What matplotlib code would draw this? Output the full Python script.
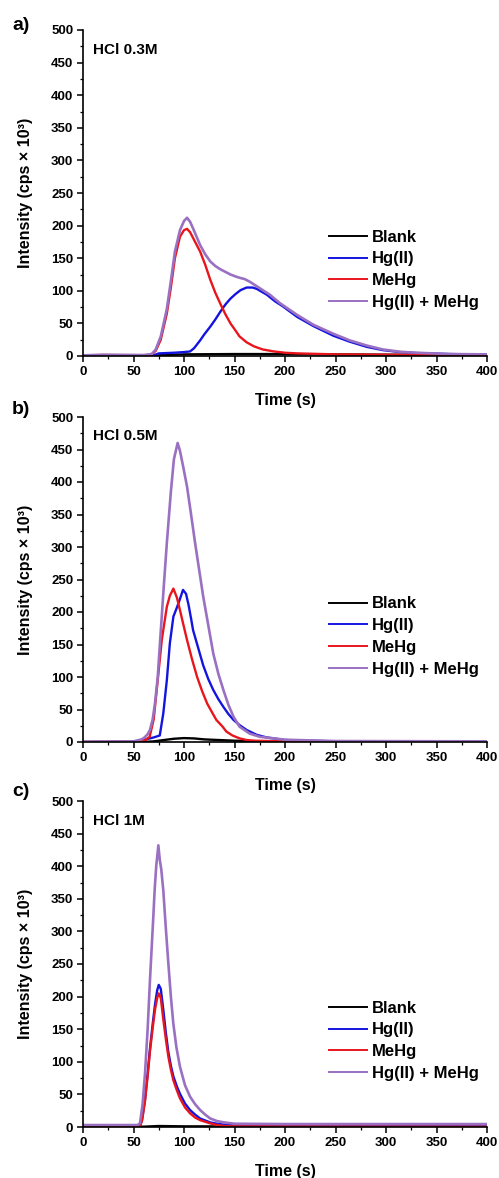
import numpy as np
import matplotlib
matplotlib.use("Agg")
import matplotlib.pyplot as plt
from matplotlib.ticker import MultipleLocator

plt.rcParams['font.family'] = ['Liberation Sans', 'DejaVu Sans']
plt.rcParams['font.weight'] = 'bold'

labels = ['Blank', 'Hg(II)', 'MeHg', 'Hg(II) + MeHg']
colors = ['#000000', '#1414e0', '#e8161c', '#9a70c2']
titles = ['HCl 0.3M', 'HCl 0.5M', 'HCl 1M']
letters = ['a)', 'b)', 'c)']

# ---- panel a: HCl 0.3M ----
t_a_blank = [0, 60, 70, 80, 100, 150, 200, 250, 300, 400]
blank_a = [0, 0, 0.5, 1.5, 2.5, 3, 3, 2.5, 2, 1.5]
t_a_hg = [0, 60, 70, 75, 90, 100, 106, 110, 116, 120, 126, 131, 136, 141, 146, 151,
          156, 162, 168, 172, 182, 190, 198, 212, 228, 248, 264, 281, 297, 314, 330, 363, 400]
hg_a = [0, 0.5, 1, 4, 5, 6, 7, 12, 24, 33, 45, 56, 68, 79, 88, 95,
        101, 105, 105, 103, 94, 84, 76, 60, 46, 31, 22, 14, 9, 6, 4.5, 3, 2]
t_a_me = [0, 20, 60, 68, 72, 77, 83, 87, 91, 96, 100, 103, 106, 110, 116, 121, 126,
          131, 136, 141, 146, 151, 155, 162, 169, 178, 189, 200, 212, 250, 300, 400]
me_a = [1, 1.5, 1, 2, 8, 25, 65, 105, 150, 183, 193, 195, 190, 178, 160, 140, 117,
        97, 80, 64, 50, 39, 30, 21, 15, 10, 7, 5, 4, 2.5, 2, 1.5]
t_a_sum = [0, 20, 60, 68, 72, 77, 83, 87, 91, 96, 100, 103, 106, 110, 116, 121, 126,
           131, 136, 141, 146, 151, 155, 160, 165, 175, 185, 195, 212, 228, 248, 264,
           281, 297, 314, 330, 363, 400]
sum_a = [1, 2, 1.5, 3, 10, 30, 72, 115, 160, 193, 207, 212, 206, 192, 170, 156, 145,
         138, 133, 129, 125, 122, 120, 118, 114, 104, 94, 81, 63, 48, 34, 24,
         16, 10, 6.5, 5, 3, 2.5]

# ---- panel b: HCl 0.5M ----
t_b_blank = [0, 60, 70, 80, 90, 100, 110, 120, 135, 150, 175, 200, 400]
blank_b = [0, 0, 1, 3, 5, 6, 5.5, 4, 3, 2, 1, 0.5, 0.5]
t_b_hg = [0, 55, 62, 70, 76, 79.5, 83, 86, 89.5, 93, 96, 99, 102, 104.5, 107, 109, 114,
          119, 124, 129, 134, 139, 144, 149, 155, 162, 172, 182, 200, 250, 400]
hg_b = [0, 0.5, 4, 7, 10, 44, 95, 152, 193, 207, 220, 234, 228, 211, 190, 172, 145,
        118, 97, 80, 66, 54, 43, 34, 26, 18.5, 11, 7, 3, 1, 0.5]
t_b_me = [0, 55, 62, 66, 70, 73, 78, 83, 86, 89.5, 93, 96, 99, 103, 108, 113, 118, 123,
          128, 132, 138, 142, 148, 155, 162, 170, 200, 400]
me_b = [0, 0.5, 3, 8, 35, 80, 157, 208, 225, 236, 222, 203, 183, 157, 127, 100, 78, 59,
        45, 34, 24, 16, 10, 5.6, 3, 2, 1, 0.5]
t_b_sum = [0, 50, 58, 61, 64, 66.3, 69, 71.3, 74, 76.2, 80, 83, 87, 90, 93.7, 96, 99,
           103, 107, 111, 115, 119, 124, 129, 134, 139, 144, 149, 155, 165, 175, 189,
           200, 250, 400]
sum_b = [0, 1, 4, 7, 12, 18.5, 35, 60, 100, 152, 240, 306, 385, 435, 460, 448, 425,
         393, 350, 306, 265, 224, 180, 136, 105, 80, 57, 39, 23.5, 13, 8, 5.6,
         3.5, 1.5, 1]

# ---- panel c: HCl 1M ----
t_c_blank = [0, 60, 75, 100, 400]
blank_c = [0.5, 0.5, 1.5, 1, 0.5]
t_c_hg = [0, 54, 56.4, 58.5, 61.4, 64, 66.3, 69, 71.3, 73.5, 75, 77, 79.5, 82, 84.5, 87,
          89.4, 93, 96, 101, 106, 111, 116, 121, 126, 133, 140, 150, 175, 400]
hg_c = [0, 0, 1, 12, 42, 82, 120, 158, 188, 210, 218, 212, 180, 145, 115, 94,
        78, 62, 51, 36, 26, 19, 13, 10, 7, 5, 3.5, 2.5, 1.5, 1]
t_c_me = [0, 54, 56.4, 58.5, 61.4, 64, 66.3, 69, 71.3, 73.5, 75, 77, 79.5, 82, 84.5, 87,
          89.4, 93, 96, 101, 106, 111, 116, 121, 126, 133, 140, 150, 400]
me_c = [0, 0, 1, 10, 40, 78, 116, 152, 180, 198, 205, 198, 165, 135, 108, 88,
        72, 56, 44, 30, 21, 14.5, 10.5, 8, 5.5, 3, 1.5, 1, 0.5]
t_c_sum = [0, 50, 54, 56.4, 59, 61.4, 64, 66.3, 68, 69.6, 71, 72.5, 74.6, 76, 77.5, 79.5,
           82, 84.5, 87, 89.4, 92.5, 96, 101, 106, 111, 116, 121, 126, 133, 140, 150,
           200, 300, 400]
sum_c = [3, 3, 3, 5.6, 35, 82, 150, 225, 275, 322, 365, 400, 432, 410, 395, 363,
         305, 251, 200, 159, 122, 92.5, 64, 46.5, 35, 26, 19, 13, 9, 7, 5,
         4.5, 4.5, 4.5]

panels = [
    [(t_a_blank, blank_a), (t_a_hg, hg_a), (t_a_me, me_a), (t_a_sum, sum_a)],
    [(t_b_blank, blank_b), (t_b_hg, hg_b), (t_b_me, me_b), (t_b_sum, sum_b)],
    [(t_c_blank, blank_c), (t_c_hg, hg_c), (t_c_me, me_c), (t_c_sum, sum_c)],
]

W, H = 499, 1178
fig = plt.figure(figsize=(W/100, H/100), dpi=100)

# pixel boxes of the three axes: (top, bottom)
boxes = [(30, 356), (417, 742), (801, 1127)]
left_px, right_px = 83, 487
letter_y = [26, 409, 792]
legend_top = [0.388, 0.448, 0.388]

for i, (top, bot) in enumerate(boxes):
    ax = fig.add_axes([left_px/W, 1 - bot/H, (right_px-left_px)/W, (bot-top)/H])
    for j, (t, v) in enumerate(panels[i]):
        ax.plot(t, v, color=colors[j], lw=1.9 if j == 3 else 1.7, label=labels[j])
    ax.set_xlim(0, 400)
    ax.set_ylim(0, 500)
    ax.xaxis.set_major_locator(MultipleLocator(50))
    ax.xaxis.set_minor_locator(MultipleLocator(25))
    ax.yaxis.set_major_locator(MultipleLocator(50))
    ax.yaxis.set_minor_locator(MultipleLocator(25))
    ax.spines['top'].set_visible(False)
    ax.spines['right'].set_visible(False)
    ax.spines['left'].set_linewidth(1.2)
    ax.spines['bottom'].set_linewidth(1.2)
    ax.tick_params(which='major', direction='out', length=4, width=1.1, pad=3,
                   labelsize=9.5)
    ax.tick_params(which='minor', direction='out', length=2.5, width=0.9)
    for lb in ax.get_xticklabels() + ax.get_yticklabels():
        lb.set_fontweight('bold')
    ax.set_xlabel('Time (s)', fontsize=11.5, fontweight='bold')
    ax.xaxis.set_label_coords(0.5, -0.112)
    ax.set_ylabel('Intensity (cps × 10³)', fontsize=11.5, fontweight='bold')
    ax.yaxis.set_label_coords(-0.124, 0.5)
    ax.text(10, 470, titles[i], fontsize=11, fontweight='bold', va='center', ha='left')
    leg = ax.legend(loc='upper left', bbox_to_anchor=(0.609, legend_top[i]), frameon=False,
                    prop={'size': 12, 'weight': 'bold'}, handlelength=2.3,
                    handletextpad=0.3, labelspacing=0.41, borderpad=0, borderaxespad=0)
    for ln in leg.get_lines():
        ln.set_linewidth(1.4)
    fig.text(12/W, 1 - letter_y[i]/H, letters[i], fontsize=14, fontweight='bold',
             va='center', ha='left')

fig.savefig('out.png', dpi=100)
